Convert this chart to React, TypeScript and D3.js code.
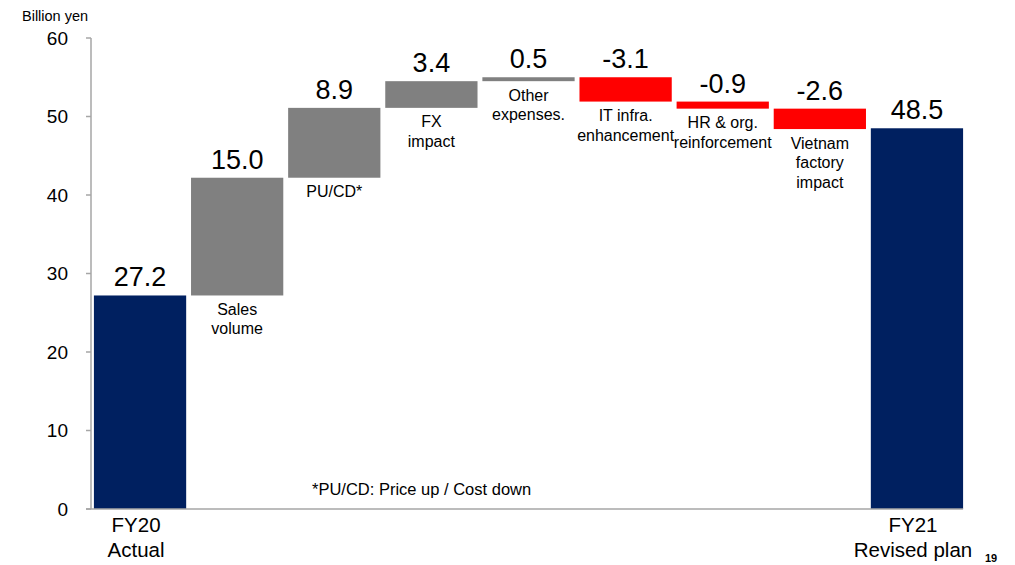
import React from "react";
import * as d3 from "d3";

const categories = ["FY20", "Sales", "PUCD", "FX", "Other", "IT", "HR", "Vietnam", "FY21"];
const categoryLabels: string[][] = [
  ["FY20", "Actual"],
  ["Sales", "volume"],
  ["PU/CD*"],
  ["FX", "impact"],
  ["Other", "expenses."],
  ["IT infra.", "enhancement"],
  ["HR & org.", "reinforcement"],
  ["Vietnam", "factory", "impact"],
  ["FY21", "Revised plan"],
];
const values = [27.2, 15.0, 8.9, 3.4, 0.5, -3.1, -0.9, -2.6, 48.5];
const kinds = ["total", "delta", "delta", "delta", "delta", "delta", "delta", "delta", "total"];
const valueLabels = ["27.2", "15.0", "8.9", "3.4", "0.5", "-3.1", "-0.9", "-2.6", "48.5"];
const yTicks = [0, 10, 20, 30, 40, 50, 60];

const W = 1015;
const H = 565;
const FONT = "'Liberation Sans', Arial, sans-serif";
const NAVY = "#002060";
const GRAY = "#808080";
const RED = "#ff0000";
const AXIS = "#a6a6a6";

export default function App() {
  const x = d3.scaleBand<string>().domain(categories).range([91, 966]).paddingInner(0.05).paddingOuter(0.03);
  const y = d3.scaleLinear().domain([0, 60]).range([509, 38]);

  let run = 0;
  const bars = values.map((v, i) => {
    let lo: number, hi: number;
    if (kinds[i] === "total") {
      lo = 0;
      hi = v;
      run = v;
    } else {
      const start = run;
      const end = run + v;
      lo = Math.min(start, end);
      hi = Math.max(start, end);
      run = end;
    }
    const color = kinds[i] === "total" ? NAVY : v >= 0 ? GRAY : RED;
    return { cat: categories[i], lo, hi, color, label: valueLabels[i], lines: categoryLabels[i], kind: kinds[i] };
  });

  const bw = x.bandwidth();

  return (
    <svg width={W} height={H} style={{ position: "absolute", left: 0, top: 0, background: "#fff" }} fontFamily={FONT}>
      <text x={22} y={21} fontSize={14.5} fill="#000">Billion yen</text>
      {/* y axis */}
      <line x1={91} x2={91} y1={y(60)} y2={y(0)} stroke={AXIS} strokeWidth={1.5} />
      {yTicks.map((t) => (
        <g key={t}>
          <line x1={86} x2={91} y1={y(t)} y2={y(t)} stroke={AXIS} strokeWidth={1.5} />
          <text x={68} y={y(t)} dy="0.35em" textAnchor="end" fontSize={19} fill="#000">{t}</text>
        </g>
      ))}
      {/* bars */}
      {bars.map((b) => {
        const x0 = x(b.cat)!;
        const cx = x0 + bw / 2;
        const top = y(b.hi);
        const bottom = y(b.lo);
        return (
          <g key={b.cat}>
            <rect x={x0} y={top} width={bw} height={Math.max(bottom - top, 1)} fill={b.color} />
            <text x={cx} y={top - 9} textAnchor="middle" fontSize={27} fill="#000">{b.label}</text>
            {b.kind === "total"
              ? b.lines.map((l, j) => (
                  <text key={j} x={cx - 4} y={532 + j * 25} textAnchor="middle" fontSize={20.5} fill="#000">{l}</text>
                ))
              : b.lines.map((l, j) => (
                  <text key={j} x={cx} y={bottom + 19.5 + j * 19.5} textAnchor="middle" fontSize={16} fill="#000">{l}</text>
                ))}
          </g>
        );
      })}
      {/* x axis */}
      <line x1={86} x2={x(categories[categories.length - 1])! + bw} y1={y(0)} y2={y(0)} stroke={AXIS} strokeWidth={1.5} />
      <text x={312} y={495} fontSize={16.5} fill="#000">*PU/CD: Price up / Cost down</text>
      <text x={985} y={562} fontSize={11} fontWeight="bold" fill="#000">19</text>
    </svg>
  );
}
